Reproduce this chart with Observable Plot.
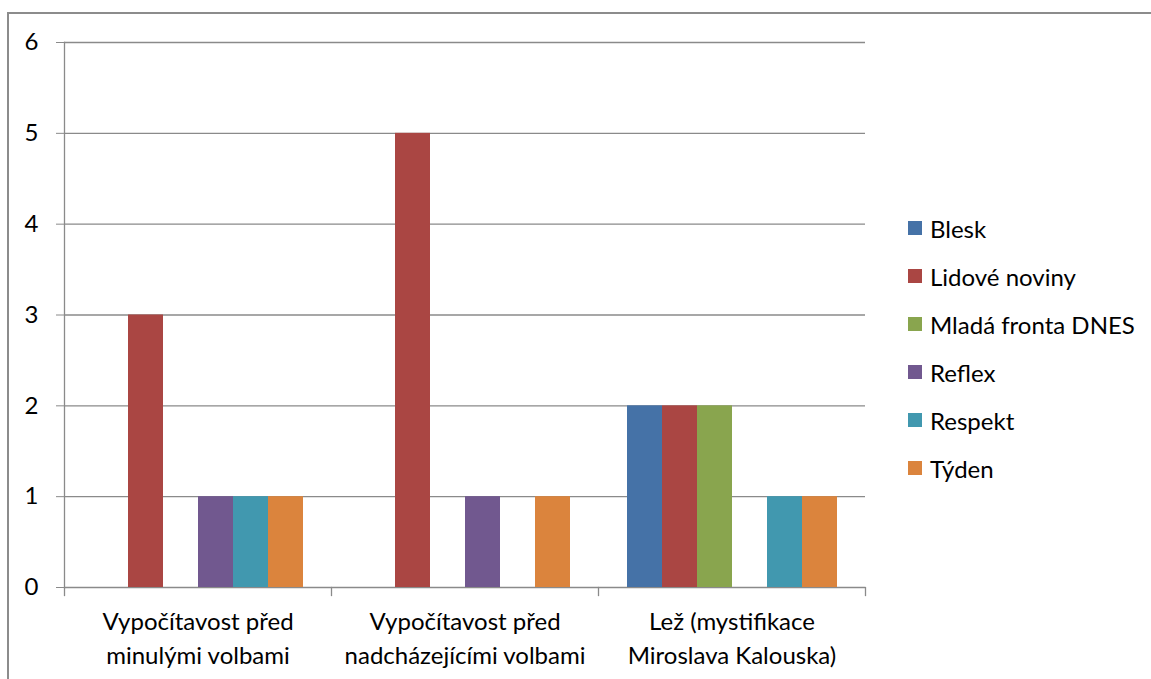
<!DOCTYPE html>
<html>
<head>
<meta charset="utf-8">
<script src="https://cdn.jsdelivr.net/npm/d3@7"></script>
<script src="https://cdn.jsdelivr.net/npm/@observablehq/plot@0.6"></script>
<style>
  html, body { margin: 0; padding: 0; background: #fff; }
  #wrap { position: relative; width: 1151px; height: 679px; overflow: hidden; font-family: Lato, "Open Sans", sans-serif; }
  #border { position: absolute; left: 7px; top: 12px; width: 3000px; height: 3000px; border-top: 2px solid #8c8c8c; border-left: 2px solid #8c8c8c; box-sizing: border-box; }
  #chart { position: absolute; left: 0; top: 0; }
  #legend { position: absolute; left: 908px; top: 204px; }
  .row { display: flex; align-items: center; height: 48px; font-size: 24px; color: #000; white-space: nowrap; }
  .sw { width: 14px; height: 14px; margin-right: 8px; flex: none; }
</style>
</head>
<body>
<div id="wrap">
  <div id="border"></div>
  <div id="chart"></div>
  <div id="legend"></div>
</div>
<script>
// ---- data ----
const categories = [
  "Vypočítavost před minulými volbami",
  "Vypočítavost před nadcházejícími volbami",
  "Lež (mystifikace Miroslava Kalouska)"
];
const categoryLabels = [
  "Vypočítavost před\nminulými volbami",
  "Vypočítavost před\nnadcházejícími volbami",
  "Lež (mystifikace\nMiroslava Kalouska)"
];
const series = ["Blesk", "Lidové noviny", "Mladá fronta DNES", "Reflex", "Respekt", "Týden"];
const blesk        = [0, 0, 2];
const lidoveNoviny = [3, 5, 2];
const mfDnes       = [0, 0, 2];
const reflex       = [1, 1, 0];
const respekt      = [1, 0, 1];
const tyden        = [1, 1, 1];
const seriesValues = [blesk, lidoveNoviny, mfDnes, reflex, respekt, tyden];
const colors = ["#4572A7", "#AA4643", "#89A54E", "#71588F", "#4198AF", "#DB843D"];
const yTicks = [0, 1, 2, 3, 4, 5, 6];

// ---- table ----
const rows = [];
series.forEach((s, si) => {
  categories.forEach((c, ci) => {
    const v = seriesValues[si][ci];
    if (v > 0) rows.push({category: c, series: s, value: v});
  });
});
const labelRows = categories.map((c, i) => ({category: c, label: categoryLabels[i]}));

const W = 1151, H = 679, mT = 42, mB = 92, mL = 63, mR = 286;
const innerH = H - mT - mB;
const gray = "#8a8a8a";
const fs = 24;

const chart = Plot.plot({
  width: W,
  height: H,
  marginTop: mT,
  marginBottom: mB,
  marginLeft: mL,
  marginRight: mR,
  style: {fontFamily: "Lato, 'Open Sans', sans-serif", background: "transparent", overflow: "visible"},
  fx: {domain: categories, padding: 0, axis: null},
  x: {domain: series, paddingInner: 0, paddingOuter: 0.75, axis: null},
  y: {domain: [0, 6], axis: null},
  color: {domain: series, range: colors},
  marks: [
    Plot.ruleY(yTicks, {stroke: gray, strokeWidth: 1.3}),
    Plot.axisY(yTicks, {tickSize: 8, tickPadding: 18, stroke: gray, fill: "#000", fontSize: fs, label: null, tickFormat: d => String(d)}),
    Plot.frame({anchor: "left", facetAnchor: "left", stroke: gray, strokeWidth: 1.3}),
    Plot.frame({anchor: "left", insetTop: innerH, insetBottom: -8, stroke: gray, strokeWidth: 1.3}),
    Plot.frame({anchor: "right", facetAnchor: "right", insetTop: innerH, insetBottom: -8, stroke: gray, strokeWidth: 1.3}),
    Plot.barY(rows, {fx: "category", x: "series", y: "value", fill: "series", inset: 0}),
    Plot.text(labelRows, {fx: "category", text: "label", frameAnchor: "bottom", lineAnchor: "top", dy: 19, fontSize: fs, lineHeight: 1.4, fill: "#000"})
  ]
});
document.getElementById("chart").appendChild(chart);

// ---- legend ----
const colorScale = chart.scale("color");
const legend = document.getElementById("legend");
colorScale.domain.forEach((s, i) => {
  const row = document.createElement("div");
  row.className = "row";
  const sw = document.createElement("span");
  sw.className = "sw";
  sw.style.background = colorScale.range[i];
  const t = document.createElement("span");
  t.textContent = s;
  row.appendChild(sw);
  row.appendChild(t);
  legend.appendChild(row);
});
</script>
</body>
</html>
